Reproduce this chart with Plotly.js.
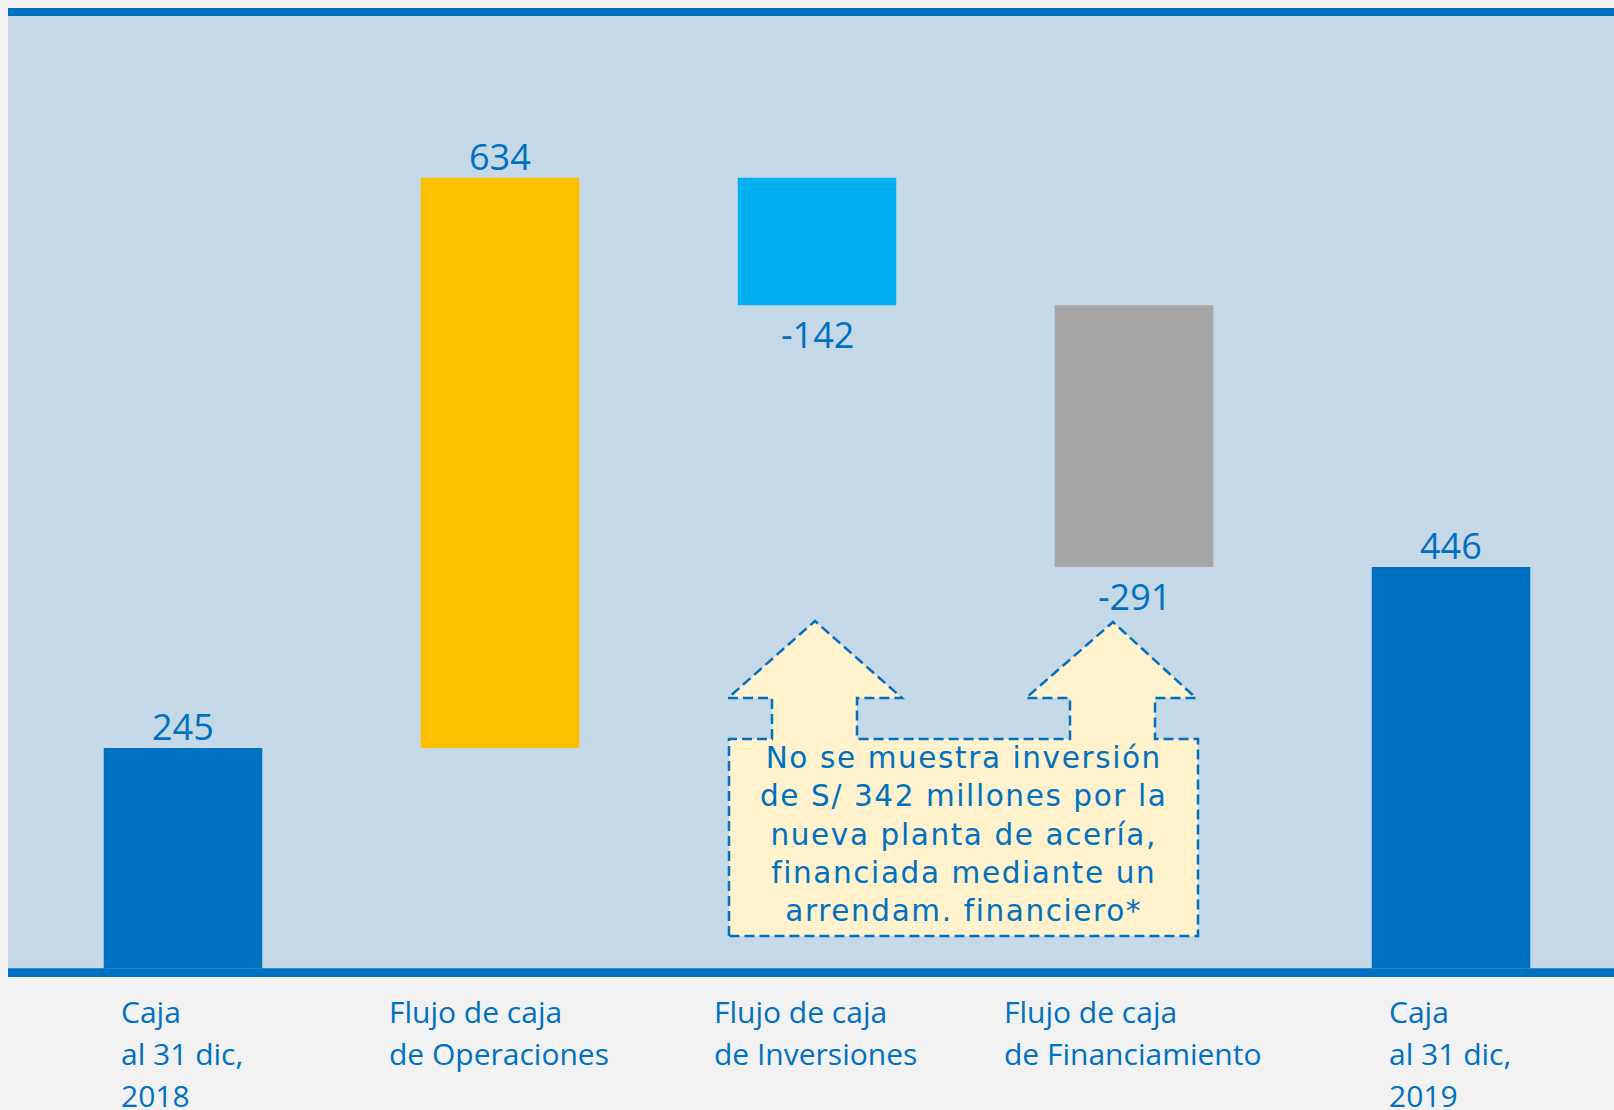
<!DOCTYPE html>
<html><head><meta charset="utf-8">
<script src="https://cdn.plot.ly/plotly-3.0.1.min.js"></script>
<style>
html,body{margin:0;padding:0;background:#f2f2f2;}
#chart{width:1614px;height:1110px;}
.annotation[data-index="0"] text{letter-spacing:1.6px;}
</style></head><body><div id="chart"></div>
<script>
// ---- data ----
const categories = ["Caja al 31 dic, 2018","Flujo de caja de Operaciones","Flujo de caja de Inversiones","Flujo de caja de Financiamiento","Caja al 31 dic, 2019"];
const labelLines = [["Caja","al 31 dic,","2018"],["Flujo de caja","de Operaciones"],["Flujo de caja","de Inversiones"],["Flujo de caja","de Financiamiento"],["Caja","al 31 dic,","2019"]];
const values = [245, 634, -142, -291, 446];
const isTotal = [true, false, false, false, true];
const barColors = ["#0070c0","#ffc000","#00b0f0","#a6a6a6","#0070c0"];
const noteLines = ["No se muestra inversión","de S/ 342 millones por la","nueva planta de acería,","financiada mediante un","arrendam. financiero*"];

// ---- waterfall bases from data ----
const bases = [];
let running = 0;
values.forEach((v, i) => {
  if (isTotal[i]) { bases.push(0); running = v; }
  else { bases.push(running); running += v; }
});

const BLUE = "#0070c0";
const W = 1614, H = 1110;
const PL = 8, PT = 8, PW = 1606, PH = 969;
const px2x = p => (p - PL) / PW;
const py2y = p => (PT + PH - p) / PH;

const trace = {
  type: "bar",
  x: categories,
  y: values,
  base: bases,
  width: 0.5,
  marker: { color: barColors, line: { width: 0 } },
  hoverinfo: "skip"
};

const annotations = [];

// note text in the dashed callout
annotations.push({
  xref: "paper", yref: "paper", x: px2x(963.5), y: py2y(834),
  xanchor: "center", yanchor: "middle", showarrow: false, align: "center",
  text: noteLines.join("<br>"),
  font: { family: "DejaVu Sans", size: 29.5, color: BLUE }
});

// value labels at bar ends
values.forEach((v, i) => {
  annotations.push({
    xref: "x", yref: "y", x: categories[i], y: bases[i] + v,
    xanchor: "center", yanchor: v >= 0 ? "bottom" : "top", yshift: v >= 0 ? -5 : -3,
    showarrow: false, text: String(v),
    font: { family: "Open Sans", size: 36, color: BLUE }
  });
});

// category labels: left-aligned lines, block centred under each bar
const ctx = document.createElement("canvas").getContext("2d");
const CAT_SIZE = 30;
ctx.font = CAT_SIZE + "px 'Open Sans'";
labelLines.forEach((lines, i) => {
  const maxW = Math.max(...lines.map(l => ctx.measureText(l).width));
  lines.forEach((line, j) => {
    annotations.push({
      xref: "x", yref: "paper", x: categories[i], y: py2y(1011 + 42.3 * j),
      xanchor: "left", yanchor: "middle", xshift: -maxW / 2 - 3,
      showarrow: false, align: "left", text: line,
      font: { family: "Open Sans", size: CAT_SIZE, color: BLUE }
    });
  });
});

// dashed callout with two arrows
const pts = [[729,936],[729,739],[772,739],[772,698],[728,698],[815,621],[902,698],[857,698],[857,739],
             [1070,739],[1070,698],[1026,698],[1113,622],[1196,698],[1155,698],[1155,739],[1198,739],[1198,936]];
const path = "M " + pts.map(p => px2x(p[0]).toFixed(5) + "," + py2y(p[1]).toFixed(5)).join(" L ") + " Z";

const shapes = [
  { type: "rect", xref: "paper", yref: "paper", x0: 0, x1: 1, y0: py2y(16), y1: 1,
    fillcolor: BLUE, line: { width: 0 }, layer: "above" },
  { type: "rect", xref: "paper", yref: "paper", x0: 0, x1: 1, y0: 0, y1: py2y(968.3),
    fillcolor: BLUE, line: { width: 0 }, layer: "above" },
  { type: "path", xref: "paper", yref: "paper", path: path,
    fillcolor: "#fff2cc", line: { color: BLUE, width: 2.5, dash: "10px,5px" }, layer: "above" }
];

const k = 0.8995;
const layout = {
  width: W, height: H,
  margin: { l: PL, r: W - PL - PW, t: PT, b: H - PT - PH, pad: 0 },
  paper_bgcolor: "#f2f2f2",
  plot_bgcolor: "#c5d9e9",
  showlegend: false,
  xaxis: { type: "category", range: [-0.5521, 4.5142], showticklabels: false, showgrid: false,
           zeroline: false, showline: false, ticks: "" },
  yaxis: { range: [-(977 - 968.3) / k, (968.3 - 8) / k], visible: false, showgrid: false, zeroline: false },
  shapes: shapes,
  annotations: annotations
};

Plotly.newPlot("chart", [trace], layout, { displayModeBar: false, staticPlot: true });
</script>
</body></html>
